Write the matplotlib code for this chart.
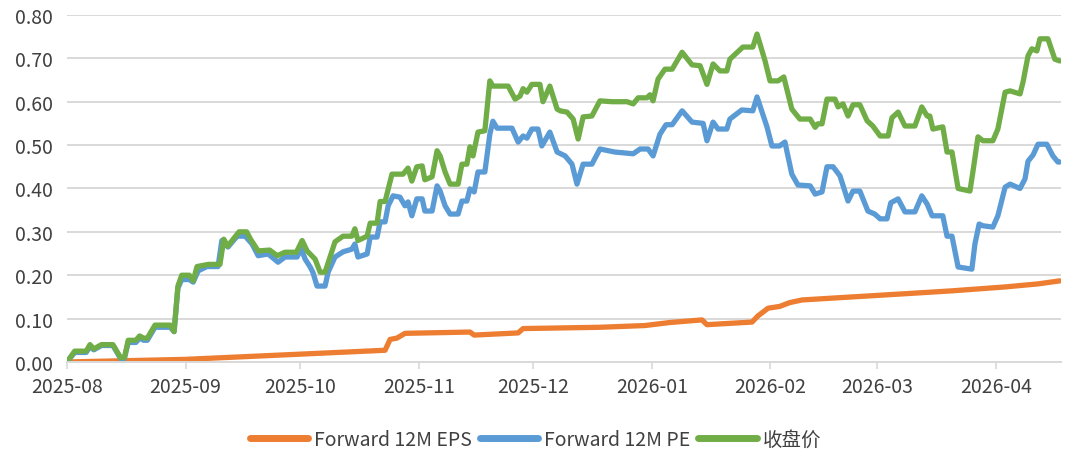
import numpy as np
import pandas as pd
import matplotlib
matplotlib.use('Agg')
import matplotlib.pyplot as plt
import matplotlib.dates as mdates

plt.rcParams['font.family'] = ['Noto Sans CJK SC', 'DejaVu Sans']

BASE = pd.Timestamp('2025-08-01')

# Forward 12M EPS  (days since 2025-08-01, value)
eps_days = [0, 30.9, 60.9, 83.2, 84.5, 86.3, 88.4, 105.4, 106.5, 118, 119.3, 139.4,
            151.2, 157.7, 166.1, 167.4, 179.2, 180.7, 183.4, 186.4, 189.1, 192.3,
            220.5, 231.5, 245.4, 254, 259.7]
eps_vals = [0.0, 0.006, 0.018, 0.027, 0.052, 0.055, 0.066, 0.069, 0.062, 0.067, 0.077, 0.080,
            0.084, 0.091, 0.097, 0.086, 0.092, 0.106, 0.124, 0.128, 0.137, 0.143,
            0.158, 0.164, 0.173, 0.180, 0.187]

# Forward 12M PE
pe_days = [0, 2, 5, 6, 7, 9, 12, 14, 15, 16, 18, 19, 20, 21, 23, 27, 28, 29, 30, 32,
           33, 34.3, 36.6, 39.5, 40.5, 42.1, 44.5, 46.6, 48.4, 50, 52.6, 55.2, 57, 60.2,
           61.2, 62.3, 63.6, 64.3, 65.4, 67.5, 68.3, 70.1, 72.2, 74.5, 75.3, 76.1, 78.5,
           79.3, 81.1, 81.9, 83.2, 84, 85.3, 87.1, 88.4, 89.2, 90.2, 91.5, 92.9, 93.6,
           95.5, 96.8, 97.6, 98.9, 100.2, 102.3, 103.3, 104.6, 105.4, 106.5, 107.5, 109.3,
           110.6, 111.4, 112.5, 116.4, 118, 119.3, 120.3, 121.6, 123.2, 124.2, 126.3,
           128.2, 130.3, 132.1, 133.4, 135, 137.3, 139.4, 143.3, 148.1, 149.9, 152, 153.3,
           155.1, 156.7, 158.3, 160.9, 163.5, 166.4, 167.4, 169, 170.3, 172.6, 173.4,
           176.5, 179.4, 180.5, 183.1, 184.4, 186.4, 187.8, 189.6, 191.2, 194.4, 195.7,
           197.5, 198.8, 200.4, 202.2, 204.3, 205.6, 207.4, 209.5, 211.3, 212.7, 214.5,
           215.5, 217.4, 219.2, 221.8, 223.6, 225, 226.3, 229.1, 230.2, 231.5, 233.1,
           236.7, 237.5, 238.6, 239.6, 242.2, 243.5, 245.4, 246.7, 249.3, 250.6, 251.4,
           252.7, 254, 256.3, 257.9, 259.2, 259.7]
pe_vals = [0.0, 0.022, 0.022, 0.035, 0.028, 0.038, 0.038, 0.008, 0.008, 0.045, 0.045, 0.055,
           0.050, 0.050, 0.080, 0.080, 0.070, 0.170, 0.190, 0.190,
           0.184, 0.210, 0.220, 0.220, 0.280, 0.265, 0.290, 0.290, 0.272, 0.245, 0.249,
           0.230, 0.242, 0.242,
           0.262, 0.237, 0.219, 0.207, 0.175, 0.175, 0.207, 0.242, 0.254, 0.260, 0.272,
           0.242, 0.249, 0.288, 0.288, 0.323, 0.323, 0.360, 0.383, 0.380, 0.360, 0.369,
           0.337, 0.376, 0.376, 0.348,
           0.348, 0.406, 0.394, 0.360, 0.341, 0.341, 0.371, 0.371, 0.399, 0.392, 0.438,
           0.438, 0.525, 0.555, 0.539, 0.539, 0.507, 0.521, 0.516, 0.537, 0.537, 0.498,
           0.530,
           0.484, 0.475, 0.456, 0.410, 0.456, 0.456, 0.491, 0.484, 0.480, 0.491, 0.491,
           0.475, 0.525, 0.547, 0.547, 0.579, 0.553, 0.550, 0.510, 0.553, 0.537, 0.537,
           0.560, 0.581, 0.579, 0.611, 0.542, 0.498, 0.498, 0.507, 0.433, 0.408, 0.406,
           0.387, 0.392, 0.450, 0.450, 0.429, 0.371, 0.394, 0.394, 0.348, 0.341, 0.330,
           0.330, 0.367, 0.376, 0.346, 0.346, 0.383, 0.364, 0.337, 0.337, 0.290, 0.290,
           0.219, 0.214, 0.272, 0.318, 0.314, 0.311, 0.337, 0.403, 0.410, 0.400, 0.422,
           0.463, 0.477, 0.502, 0.502, 0.475, 0.461, 0.461]

# 收盘价
close_days = [0, 2, 5, 6, 7, 9, 12, 14, 15, 16, 18, 19, 20, 21, 23, 27, 28, 29, 30, 32,
              33, 34, 37, 40, 41, 42, 45, 47, 48, 50, 53, 55, 57, 60, 61.5, 62.8, 64.9,
              66.2, 67.5, 70.1, 72.2, 74.5, 75.3, 76.1, 78.5, 79.3, 81.1, 81.9, 83.2, 85,
              87.9, 89.2, 90.2, 91.5, 92.9, 93.6, 95.5, 96.8, 97.6, 98.9, 100.2, 102.3,
              103.3, 104.6, 105.4, 106.2, 107.5, 109.3, 110.6, 111.4, 115.4, 117.2, 118.5,
              119.3, 120.3, 121.6, 123.7, 124.5, 126.3, 128.2, 129, 130.8, 132.4, 133.7,
              135, 137.3, 139.4, 142.6, 146.5, 148.1, 149.4, 151.7, 152.5, 153.3, 154.6,
              156.4, 158.3, 160.9, 163.5, 165.6, 167.4, 169, 170.8, 172.6, 173.4, 176.8,
              179.4, 180.5, 182.6, 183.9, 186, 187.5, 189.6, 191.7, 194.4, 195.7, 196.4,
              197.5, 198.8, 200.9, 201.7, 203, 204.3, 205.6, 207.4, 209.3, 210.8, 212.7,
              214.8, 215.8, 217.4, 219.2, 221.8, 223.6, 225, 225.7, 226.5, 229.1, 230.2,
              231.5, 233.1, 236.2, 237, 238.3, 239.6, 242.2, 243.5, 245.4, 246.7, 249.3,
              250.1, 251.4, 252.4, 253.7, 254.5, 256.6, 258.4, 259.7]
close_vals = [0.0, 0.025, 0.025, 0.040, 0.030, 0.040, 0.040, 0.010, 0.010, 0.050, 0.050,
              0.060, 0.055, 0.055, 0.085, 0.085, 0.070, 0.175, 0.200, 0.200,
              0.187, 0.220, 0.225, 0.225, 0.283, 0.267, 0.300, 0.300, 0.283, 0.256, 0.258,
              0.245, 0.253, 0.253, 0.280, 0.256, 0.237,
              0.207, 0.207, 0.277, 0.290, 0.290, 0.307, 0.280, 0.290, 0.320, 0.320, 0.370,
              0.370, 0.433,
              0.433, 0.447, 0.417, 0.450, 0.452, 0.420, 0.427, 0.487, 0.475, 0.438, 0.410,
              0.410,
              0.456, 0.456, 0.496, 0.475, 0.530, 0.533, 0.648, 0.636, 0.636, 0.606, 0.613,
              0.630, 0.622, 0.640, 0.640, 0.600, 0.636, 0.583, 0.579, 0.576, 0.560, 0.514,
              0.565, 0.567, 0.602, 0.600, 0.600, 0.595, 0.609, 0.609, 0.616, 0.602, 0.652,
              0.675, 0.675, 0.714, 0.685, 0.683, 0.640, 0.687, 0.671, 0.671, 0.698, 0.726,
              0.726, 0.756, 0.694, 0.648, 0.648, 0.657, 0.583, 0.560, 0.560, 0.541, 0.549,
              0.549, 0.606, 0.606, 0.588, 0.595, 0.567, 0.593, 0.593, 0.556, 0.544, 0.521,
              0.521, 0.563, 0.576, 0.544, 0.544, 0.588, 0.567, 0.567, 0.537, 0.542, 0.484,
              0.484, 0.400, 0.394, 0.440, 0.519, 0.510, 0.510, 0.537, 0.622, 0.625, 0.618,
              0.646, 0.706, 0.722, 0.717, 0.745, 0.745, 0.698, 0.694]

series = [
    ('Forward 12M EPS', eps_days, eps_vals, '#ED7D31'),
    ('Forward 12M PE', pe_days, pe_vals, '#5B9BD5'),
    ('收盘价', close_days, close_vals, '#70AD47'),
]

fig = plt.figure(figsize=(10.71, 4.56), dpi=100)
ax = fig.add_axes([0.0626, 0.204, 0.928, 0.761])

for name, days, vals, color in series:
    x = BASE + pd.to_timedelta(np.array(days), unit='D')
    ax.plot(x, vals, color=color, lw=3.8, label=name,
            solid_joinstyle='round', solid_capstyle='round')

ax.set_ylim(0, 0.8)
ax.set_xlim(BASE, BASE + pd.Timedelta(days=260))
ax.set_yticks(np.arange(0, 0.81, 0.1))
ax.yaxis.set_major_formatter(plt.FuncFormatter(lambda v, p: f'{v:.2f}'))
ax.set_xticks(pd.date_range('2025-08-01', '2026-04-01', freq='MS'))
ax.xaxis.set_major_formatter(mdates.DateFormatter('%Y-%m'))

ax.grid(axis='y', color='#D9D9D9', lw=1.4)
ax.set_axisbelow(True)
for s in ['top', 'right', 'left']:
    ax.spines[s].set_visible(False)
ax.spines['bottom'].set_color('#D9D9D9')
ax.spines['bottom'].set_linewidth(1.4)
ax.tick_params(axis='y', length=0, pad=10, labelsize=14, labelcolor='#404040')
ax.tick_params(axis='x', length=5, width=1.2, color='#D9D9D9', pad=5,
               labelsize=14, labelcolor='#404040')

leg = fig.legend(loc='center', bbox_to_anchor=(0.5, 0.035), ncol=3, frameon=False,
                 fontsize=14, handlelength=3.0, handletextpad=0.3, columnspacing=0.4,
                 labelcolor='#404040')
for h in leg.get_lines():
    h.set_linewidth(5)
    h.set_solid_capstyle('round')

fig.savefig('out.png', dpi=100)
